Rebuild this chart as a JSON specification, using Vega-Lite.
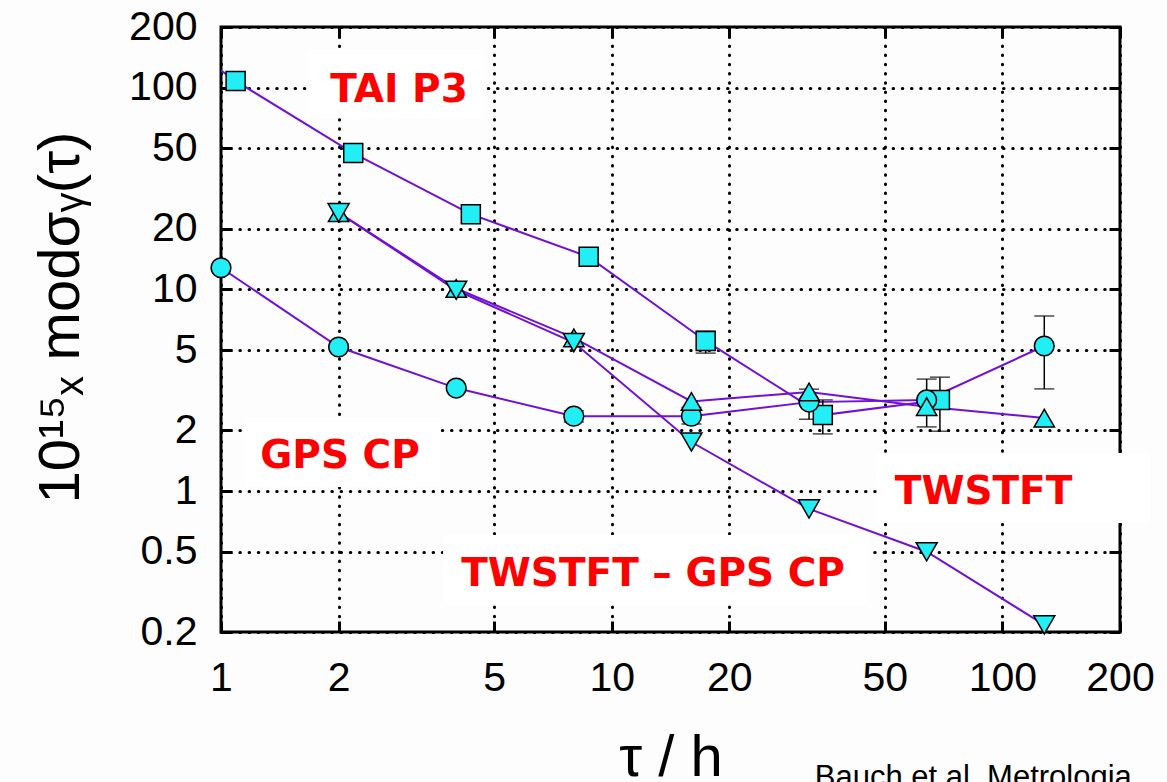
{
  "$schema": "https://vega.github.io/schema/vega-lite/v6.json",
  "width": 899,
  "height": 605,
  "autosize": {"type": "none"},
  "padding": {"left": 221, "top": 27, "right": 47, "bottom": 150},
  "background": "#FDFDFD",
  "config": {
    "view": {"stroke": "black", "strokeWidth": 3, "fill": "#FDFDFD"},
    "font": "Liberation Sans"
  },
  "datasets": {
    "pts": [
      {"series": "TAI P3", "tau": 0.546, "sigma": 280},
      {"series": "TAI P3", "tau": 1.09, "sigma": 108},
      {"series": "TAI P3", "tau": 2.18, "sigma": 47.4},
      {"series": "TAI P3", "tau": 4.36, "sigma": 23.6},
      {"series": "TAI P3", "tau": 8.73, "sigma": 14.5},
      {"series": "TAI P3", "tau": 17.4, "sigma": 5.55, "lo": 4.83, "hi": 6.21},
      {"series": "TAI P3", "tau": 34.7, "sigma": 2.38, "lo": 1.92, "hi": 2.83},
      {"series": "TAI P3", "tau": 69.2, "sigma": 2.83, "lo": 1.98, "hi": 3.67},
      {"series": "GPS CP", "tau": 1, "sigma": 12.8},
      {"series": "GPS CP", "tau": 2, "sigma": 5.18},
      {"series": "GPS CP", "tau": 4, "sigma": 3.24},
      {"series": "GPS CP", "tau": 8, "sigma": 2.35, "lo": 2.2, "hi": 2.5},
      {"series": "GPS CP", "tau": 16, "sigma": 2.35, "lo": 2.15, "hi": 2.6},
      {"series": "GPS CP", "tau": 32, "sigma": 2.76, "lo": 2.27, "hi": 3.2},
      {"series": "GPS CP", "tau": 64, "sigma": 2.83, "lo": 2.08, "hi": 3.59},
      {"series": "GPS CP", "tau": 128, "sigma": 5.24, "lo": 3.21, "hi": 7.38},
      {"series": "TWSTFT", "tau": 2, "sigma": 24},
      {"series": "TWSTFT", "tau": 4, "sigma": 10.1},
      {"series": "TWSTFT", "tau": 8, "sigma": 5.75},
      {"series": "TWSTFT", "tau": 16, "sigma": 2.78},
      {"series": "TWSTFT", "tau": 32, "sigma": 3.1},
      {"series": "TWSTFT", "tau": 64, "sigma": 2.62},
      {"series": "TWSTFT", "tau": 128, "sigma": 2.3},
      {"series": "TWSTFT – GPS CP", "tau": 2, "sigma": 24},
      {"series": "TWSTFT – GPS CP", "tau": 4, "sigma": 9.9},
      {"series": "TWSTFT – GPS CP", "tau": 8, "sigma": 5.45},
      {"series": "TWSTFT – GPS CP", "tau": 16, "sigma": 1.75},
      {"series": "TWSTFT – GPS CP", "tau": 32, "sigma": 0.815},
      {"series": "TWSTFT – GPS CP", "tau": 64, "sigma": 0.5},
      {"series": "TWSTFT – GPS CP", "tau": 128, "sigma": 0.217}
    ],
    "boxes": [
      {"label": "TAI P3", "x1": 1.67, "x2": 4.68, "y1": 153.6, "y2": 70.6, "lx": 2.855, "ly": 84.9},
      {"label": "GPS CP", "x1": 1.152, "x2": 3.64, "y1": 2.3, "y2": 1.048, "lx": 2.017, "ly": 1.3},
      {"label": "TWSTFT", "x1": 47.8, "x2": 238.6, "y1": 1.544, "y2": 0.694, "lx": 89.5, "ly": 0.862},
      {"label": "TWSTFT – GPS CP", "x1": 3.7, "x2": 45.3, "y1": 0.605, "y2": 0.272, "lx": 12.76, "ly": 0.338}
    ],
    "credit": [
      {"text": "Bauch et al. Metrologia", "cx": 33.1, "cy": 0.0341}
    ]
  },
  "layer": [
    {
      "data": {"name": "boxes"},
      "mark": {"type": "rect", "fill": "#FFFFFF"},
      "encoding": {
        "x": {
          "field": "x1", "type": "quantitative",
          "scale": {"type": "log", "domain": [1, 200], "nice": false},
          "axis": {
            "orient": "bottom",
            "title": "τ / h",
            "values": [1, 2, 5, 10, 20, 50, 100, 200],
            "format": "~g",
            "labelFontSize": 41,
            "labelColor": "black",
            "labelPadding": 37,
            "labelFlush": false,
            "labelOverlap": false,
            "tickSize": -11,
            "tickWidth": 3,
            "tickColor": "black",
            "domain": false,
            "grid": true,
            "gridColor": "black",
            "gridDash": [0.5, 8.7],
            "gridWidth": 3,
            "gridCap": "round",
            "titleFontSize": 58,
            "titleFontWeight": "normal",
            "titleColor": "black",
            "titlePadding": 31
          }
        },
        "x2": {"field": "x2"},
        "y": {
          "field": "y1", "type": "quantitative",
          "scale": {"type": "log", "domain": [0.2, 200], "nice": false},
          "axis": {
            "orient": "left",
            "title": "10¹⁵ₓ modσᵧ(τ)",
            "values": [0.2, 0.5, 1, 2, 5, 10, 20, 50, 100, 200],
            "format": "~g",
            "labelFontSize": 41,
            "labelColor": "black",
            "labelPadding": 35,
            "labelOverlap": false,
            "labelFlush": false,
            "tickSize": -11,
            "tickWidth": 3,
            "tickColor": "black",
            "domain": false,
            "grid": true,
            "gridColor": "black",
            "gridDash": [0.5, 8.7],
            "gridWidth": 3,
            "gridCap": "round",
            "titleFontSize": 58,
            "titleFontWeight": "normal",
            "titleColor": "black",
            "titlePadding": 38,
            "titleY": 290
          }
        },
        "y2": {"field": "y2"}
      }
    },
    {
      "data": {"name": "pts"},
      "mark": {"type": "line", "color": "#7010D8", "strokeWidth": 2, "clip": true},
      "encoding": {
        "x": {
          "field": "tau", "type": "quantitative",
          "scale": {"type": "log", "domain": [1, 200], "nice": false},
          "axis": {"orient": "top", "values": [1, 2, 5, 10, 20, 50, 100, 200], "labels": false, "title": null, "grid": false, "domain": false, "tickSize": -11, "tickWidth": 3, "tickColor": "black"}
        },
        "y": {
          "field": "sigma", "type": "quantitative",
          "scale": {"type": "log", "domain": [0.2, 200], "nice": false},
          "axis": {"orient": "right", "values": [0.2, 0.5, 1, 2, 5, 10, 20, 50, 100, 200], "labels": false, "title": null, "grid": false, "domain": false, "tickSize": -11, "tickWidth": 3, "tickColor": "black"}
        },
        "detail": {"field": "series"},
        "order": {"field": "tau"}
      }
    },
    {
      "data": {"name": "pts"},
      "transform": [{"filter": "isValid(datum.lo)"}],
      "mark": {"type": "rule", "color": "black", "strokeWidth": 1.5},
      "encoding": {
        "x": {"field": "tau", "type": "quantitative", "scale": {"type": "log", "domain": [1, 200], "nice": false}, "axis": null},
        "y": {"field": "lo", "type": "quantitative", "scale": {"type": "log", "domain": [0.2, 200], "nice": false}, "axis": null},
        "y2": {"field": "hi"}
      }
    },
    {
      "data": {"name": "pts"},
      "transform": [{"filter": "isValid(datum.lo)"}],
      "mark": {"type": "tick", "orient": "horizontal", "color": "black", "size": 20, "thickness": 1.5},
      "encoding": {
        "x": {"field": "tau", "type": "quantitative", "scale": {"type": "log", "domain": [1, 200], "nice": false}, "axis": null},
        "y": {"field": "lo", "type": "quantitative", "scale": {"type": "log", "domain": [0.2, 200], "nice": false}, "axis": null}
      }
    },
    {
      "data": {"name": "pts"},
      "transform": [{"filter": "isValid(datum.hi)"}],
      "mark": {"type": "tick", "orient": "horizontal", "color": "black", "size": 20, "thickness": 1.5},
      "encoding": {
        "x": {"field": "tau", "type": "quantitative", "scale": {"type": "log", "domain": [1, 200], "nice": false}, "axis": null},
        "y": {"field": "hi", "type": "quantitative", "scale": {"type": "log", "domain": [0.2, 200], "nice": false}, "axis": null}
      }
    },
    {
      "data": {"name": "pts"},
      "transform": [{"filter": "datum.tau >= 1"}],
      "mark": {"type": "point", "filled": true, "fill": "#22EEF6", "stroke": "black", "strokeWidth": 1.5, "opacity": 1},
      "encoding": {
        "x": {"field": "tau", "type": "quantitative", "scale": {"type": "log", "domain": [1, 200], "nice": false}, "axis": null},
        "y": {"field": "sigma", "type": "quantitative", "scale": {"type": "log", "domain": [0.2, 200], "nice": false}, "axis": null},
        "shape": {
          "field": "series", "type": "nominal",
          "scale": {"domain": ["TAI P3", "GPS CP", "TWSTFT", "TWSTFT – GPS CP"], "range": ["square", "circle", "triangle-up", "triangle-down"]},
          "legend": null
        },
        "size": {
          "field": "series", "type": "nominal",
          "scale": {"domain": ["TAI P3", "GPS CP", "TWSTFT", "TWSTFT – GPS CP"], "range": [361, 441, 441, 441]},
          "legend": null
        }
      }
    },
    {
      "data": {"name": "boxes"},
      "mark": {"type": "text", "font": "DejaVu Sans", "fontWeight": "bold", "fontSize": 39, "color": "#FF0000", "align": "center", "baseline": "alphabetic"},
      "encoding": {
        "x": {"field": "lx", "type": "quantitative", "scale": {"type": "log", "domain": [1, 200], "nice": false}, "axis": null},
        "y": {"field": "ly", "type": "quantitative", "scale": {"type": "log", "domain": [0.2, 200], "nice": false}, "axis": null},
        "text": {"field": "label"}
      }
    },
    {
      "data": {"name": "credit"},
      "mark": {"type": "text", "font": "Liberation Sans", "fontSize": 31, "color": "black", "align": "left", "baseline": "alphabetic"},
      "encoding": {
        "x": {"field": "cx", "type": "quantitative", "scale": {"type": "log", "domain": [1, 200], "nice": false}, "axis": null},
        "y": {"field": "cy", "type": "quantitative", "scale": {"type": "log", "domain": [0.2, 200], "nice": false}, "axis": null},
        "text": {"field": "text"}
      }
    }
  ],
  "resolve": {"axis": {"x": "independent", "y": "independent"}}
}
